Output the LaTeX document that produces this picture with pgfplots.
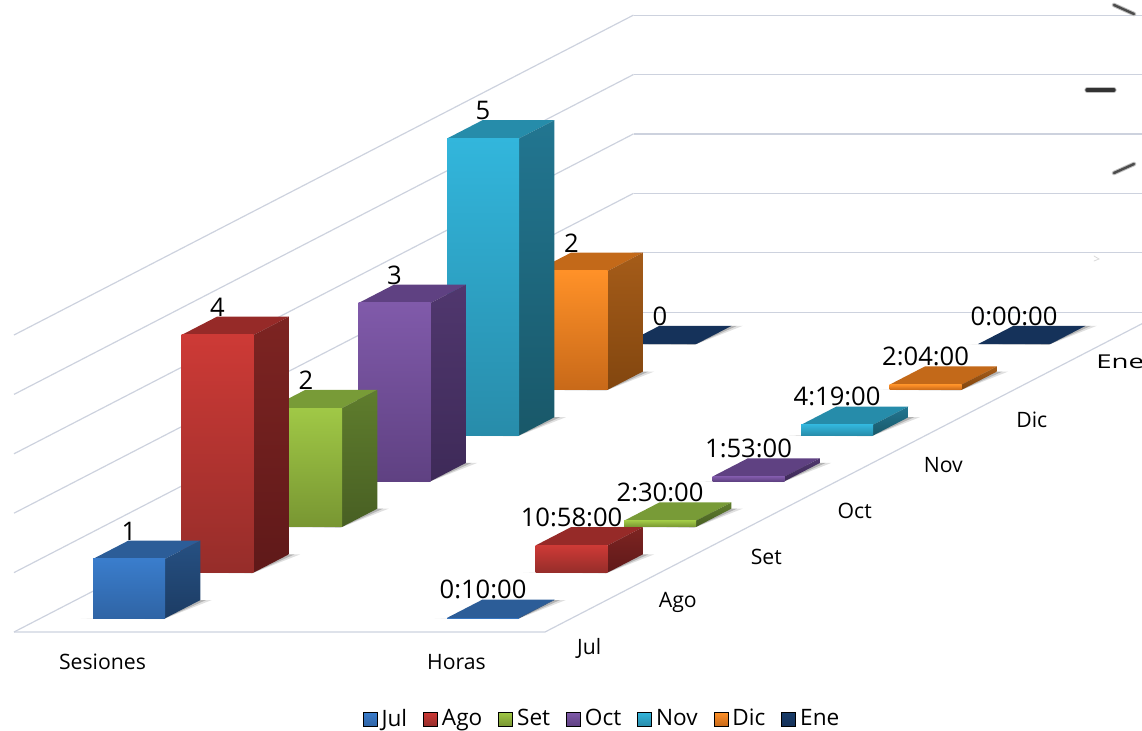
\documentclass[border=0pt]{standalone}
\usepackage{fontspec}
\setmainfont{Open Sans}
\usepackage{graphicx}
\usepackage{pgfplots}
\pgfplotsset{compat=1.18}

% front top, front bottom, top face, side top, side bottom
\definecolor{julA}{RGB}{58,125,204}\definecolor{julB}{RGB}{47,100,165}\definecolor{julT}{RGB}{44,93,152}\definecolor{julC}{RGB}{38,80,130}\definecolor{julD}{RGB}{28,60,100}
\definecolor{agoA}{RGB}{205,58,54}\definecolor{agoB}{RGB}{150,45,42}\definecolor{agoT}{RGB}{150,42,40}\definecolor{agoC}{RGB}{125,36,34}\definecolor{agoD}{RGB}{95,25,25}
\definecolor{setA}{RGB}{160,200,70}\definecolor{setB}{RGB}{120,150,50}\definecolor{setT}{RGB}{120,155,55}\definecolor{setC}{RGB}{95,125,45}\definecolor{setD}{RGB}{72,95,35}
\definecolor{octA}{RGB}{128,90,170}\definecolor{octB}{RGB}{95,65,130}\definecolor{octT}{RGB}{95,65,130}\definecolor{octC}{RGB}{80,55,110}\definecolor{octD}{RGB}{62,42,88}
\definecolor{novA}{RGB}{50,182,220}\definecolor{novB}{RGB}{40,140,170}\definecolor{novT}{RGB}{38,140,170}\definecolor{novC}{RGB}{34,118,145}\definecolor{novD}{RGB}{25,88,105}
\definecolor{dicA}{RGB}{255,145,40}\definecolor{dicB}{RGB}{200,105,25}\definecolor{dicT}{RGB}{195,105,25}\definecolor{dicC}{RGB}{165,92,25}\definecolor{dicD}{RGB}{130,70,15}
\definecolor{eneA}{RGB}{25,60,105}\definecolor{eneB}{RGB}{21,50,90}\definecolor{eneT}{RGB}{21,50,90}\definecolor{eneC}{RGB}{21,50,90}\definecolor{eneD}{RGB}{18,42,78}
\definecolor{gridc}{RGB}{205,210,222}

% category, series, value, colour prefix
\newcommand{\barbox}[4]{%
  \pgfmathsetmacro\xa{#1-0.1017}\pgfmathsetmacro\xb{#1+0.1017}%
  \pgfmathsetmacro\ya{#2+0.3}\pgfmathsetmacro\yb{#2+0.7}%
  \pgfmathsetmacro\xs{\xa-0.035}\pgfmathsetmacro\xt{\xb+0.032}\pgfmathsetmacro\yt{\ya-0.02}%
  \pgfmathsetmacro\xu{\xa-0.018}\pgfmathsetmacro\xv{\xb+0.016}\pgfmathsetmacro\yu{\ya-0.01}%
  \addplot3[forget plot,draw=none,fill=black,fill opacity=0.12] coordinates {(\xs,\ya,0) (\xb,\yt,0) (\xt,\yb,0) (\xb,\yb,0) (\xa,\ya,0)} --cycle;
  \addplot3[forget plot,draw=none,fill=black,fill opacity=0.2] coordinates {(\xu,\ya,0) (\xb,\yu,0) (\xv,\yb,0) (\xb,\yb,0) (\xa,\ya,0)} --cycle;
  \addplot3[forget plot,draw=none,shade,top color=#4T,bottom color=#4T] coordinates {(\xa,\ya,#3) (\xb,\ya,#3) (\xb,\yb,#3) (\xa,\yb,#3)} --cycle;
  \addplot3[forget plot,draw=none,shade,top color=#4C,bottom color=#4D] coordinates {(\xb,\ya,0) (\xb,\yb,0) (\xb,\yb,#3) (\xb,\ya,#3)} --cycle;
  \addplot3[forget plot,draw=none,shade,top color=#4A,bottom color=#4B] coordinates {(\xa,\ya,0) (\xb,\ya,0) (\xb,\ya,#3) (\xa,\ya,#3)} --cycle;
}
\newcommand{\swatch}[1]{\addlegendimage{legend image code/.code={\shade[top color=#1A,bottom color=#1B] (0pt,-3.5pt) rectangle (7pt,3.5pt);}}}

\begin{document}
\begin{tikzpicture}
\path[use as bounding box,clip] (0,0) rectangle (571pt,365pt);
\begin{axis}[
  at={(51.25pt,49pt)},anchor=origin,
  x={(177pt,0pt)},y={(44.25pt,22.85pt)},z={(0pt,29.7pt)},
  xmin=-0.25,xmax=1.25,ymin=0,ymax=7,zmin=0,zmax=5,
  clip=false,
  axis line style={draw=none},tick style={draw=none},
  zmajorgrids=true,major grid style={gridc,line width=0.6pt},
  xtick={0,1},xticklabels={Sesiones,Horas},
  ytick={0.5,1.5,2.5,3.5,4.5,5.5,6.5},
  yticklabels={Jul,Ago,Set,Oct,Nov,Dic,{\raisebox{12pt}{\scalebox{1.3}[0.9]{Ene}}}},
  ztick={0,1,2,3,4,5},zticklabels={},
  tick label style={font=\fontsize{10.6}{13}\selectfont,anchor=center},
  x tick label style={yshift=-15pt},
  y tick label style={yshift=-19.5pt},
  legend style={at={(axis cs:1.414,0,-1.466)},anchor=center,draw=none,fill=none,legend columns=-1,font=\fontsize{11.3}{13}\selectfont,
    /tikz/every even column/.append style={column sep=6pt}},
]
% floor edges
\addplot3[forget plot,gridc,line width=0.6pt] coordinates {(-0.25,0,0) (1.25,0,0) (1.25,7,0)};

% Horas, in days
\barbox{1}{6}{0}{ene}
\barbox{1}{5}{0.08611}{dic}
\barbox{1}{4}{0.17986}{nov}
\barbox{1}{3}{0.07847}{oct}
\barbox{1}{2}{0.10417}{set}
\barbox{1}{1}{0.45694}{ago}
\barbox{1}{0}{0.00694}{jul}
% Sesiones
\barbox{0}{6}{0}{ene}
\barbox{0}{5}{2}{dic}
\barbox{0}{4}{5}{nov}
\barbox{0}{3}{3}{oct}
\barbox{0}{2}{2}{set}
\barbox{0}{1}{4}{ago}
\barbox{0}{0}{1}{jul}

\addplot3[forget plot,only marks,mark=none,nodes near coords,point meta=explicit symbolic,
  nodes near coords style={anchor=center,yshift=14pt,font=\fontsize{12.8}{14}\selectfont}]
  table[x=x,y=y,z=z,meta=label] {
x y z label
0 0.3 1 1
0 1.3 4 4
0 2.3 2 2
0 3.3 3 3
0 4.3 5 5
0 5.3 2 2
0 6.3 0 0
1 0.3 0.00694 0:10:00
1 1.3 0.45694 10:58:00
1 2.3 0.10417 2:30:00
1 3.3 0.07847 1:53:00
1 4.3 0.17986 4:19:00
1 5.3 0.08611 2:04:00
1 6.3 0 0:00:00
};

\swatch{jul}\addlegendentry{Jul}
\swatch{ago}\addlegendentry{Ago}
\swatch{set}\addlegendentry{Set}
\swatch{oct}\addlegendentry{Oct}
\swatch{nov}\addlegendentry{Nov}
\swatch{dic}\addlegendentry{Dic}
\swatch{ene}\addlegendentry{Ene}
\end{axis}
% squeezed tick labels of the hidden right axis
\begin{scope}[shift={(0pt,365pt)},x=0.5pt,y=-0.5pt,line cap=round]
\draw[black!25,line width=2.2pt] (1114,5) -- (1134,14);
\draw[black!70,line width=1.2pt] (1114,5) -- (1134,14);
\draw[black!25,line width=2.6pt] (1087,90) -- (1114,90);
\draw[black!80,line width=1.7pt] (1087,90) -- (1114,90);
\draw[black!25,line width=2.2pt] (1114,173) -- (1134,164);
\draw[black!70,line width=1.2pt] (1114,173) -- (1134,164);
\draw[black!15,line width=0.4pt] (1094,256) -- (1099,259) -- (1094,261);
\end{scope}
\end{tikzpicture}
\end{document}
